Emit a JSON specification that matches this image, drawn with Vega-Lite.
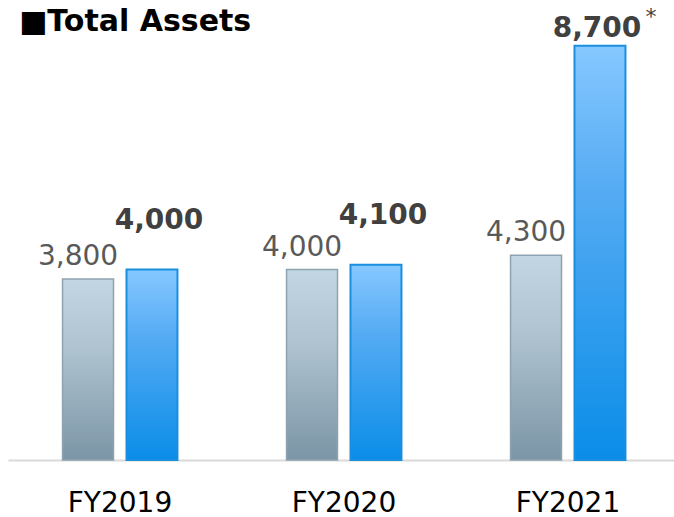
{
  "$schema": "https://vega.github.io/schema/vega-lite/v6.json",
  "autosize": {"type": "none"},
  "padding": {"top": 40, "left": 8, "right": 0, "bottom": 57},
  "width": 666,
  "height": 420,
  "background": "white",
  "title": {
    "text": "■Total Assets",
    "anchor": "start",
    "frame": "group",
    "orient": "top",
    "font": "DejaVu Sans",
    "fontSize": 30,
    "fontWeight": "bold",
    "color": "#000000",
    "baseline": "alphabetic",
    "offset": -55,
    "dx": 11
  },
  "data": {
    "values": [
      {"year": "FY2019", "series": "prev", "value": 3800},
      {"year": "FY2019", "series": "curr", "value": 4000},
      {"year": "FY2020", "series": "prev", "value": 4000},
      {"year": "FY2020", "series": "curr", "value": 4100},
      {"year": "FY2021", "series": "prev", "value": 4300},
      {"year": "FY2021", "series": "curr", "value": 8700, "note": "*"}
    ]
  },
  "encoding": {
    "x": {
      "field": "year",
      "type": "nominal",
      "sort": ["FY2019", "FY2020", "FY2021"],
      "scale": {"range": [0, 672], "paddingInner": 0.487, "paddingOuter": 0.2435},
      "axis": {
        "title": null,
        "orient": "bottom",
        "domain": true,
        "domainColor": "#d9d9d9",
        "domainWidth": 2,
        "ticks": false,
        "tickSize": 0,
        "labelFont": "DejaVu Sans",
        "labelFontSize": 28,
        "labelColor": "#000000",
        "labelBaseline": "top",
        "labelPadding": 29,
        "labelAngle": 0
      }
    },
    "xOffset": {
      "field": "series",
      "type": "nominal",
      "sort": ["prev", "curr"],
      "scale": {"paddingInner": 0.203, "paddingOuter": 0}
    },
    "y": {
      "field": "value",
      "type": "quantitative",
      "scale": {"domain": [0, 8820], "nice": false, "zero": true},
      "axis": null
    }
  },
  "layer": [
    {
      "transform": [{"filter": "datum.series === 'prev'"}],
      "mark": {
        "type": "bar",
        "fill": {
          "gradient": "linear",
          "x1": 0, "y1": 0, "x2": 0, "y2": 1,
          "stops": [
            {"offset": 0, "color": "#c2d6e3"},
            {"offset": 0.4, "color": "#aec2cf"},
            {"offset": 1, "color": "#7b95a6"}
          ]
        },
        "stroke": "#8ea3b1",
        "strokeWidth": 1.5
      }
    },
    {
      "transform": [{"filter": "datum.series === 'curr'"}],
      "mark": {
        "type": "bar",
        "fill": {
          "gradient": "linear",
          "x1": 0, "y1": 0, "x2": 0, "y2": 1,
          "stops": [
            {"offset": 0, "color": "#86c8ff"},
            {"offset": 0.35, "color": "#55abf3"},
            {"offset": 1, "color": "#0a8de8"}
          ]
        },
        "stroke": "#1a8fe0",
        "strokeWidth": 2
      }
    },
    {
      "transform": [{"filter": "datum.series === 'prev'"}],
      "mark": {
        "type": "text",
        "font": "DejaVu Sans",
        "fontSize": 28,
        "color": "#595959",
        "baseline": "alphabetic",
        "align": "center",
        "dx": -10,
        "dy": -14
      },
      "encoding": {"text": {"field": "value", "type": "quantitative", "format": ","}}
    },
    {
      "transform": [{"filter": "datum.series === 'curr' && !isValid(datum.note)"}],
      "mark": {
        "type": "text",
        "font": "DejaVu Sans",
        "fontSize": 28,
        "fontWeight": "bold",
        "color": "#404040",
        "baseline": "alphabetic",
        "align": "center",
        "dx": 7,
        "dy": -41
      },
      "encoding": {"text": {"field": "value", "type": "quantitative", "format": ","}}
    },
    {
      "transform": [{"filter": "datum.series === 'curr' && isValid(datum.note)"}],
      "mark": {
        "type": "text",
        "font": "DejaVu Sans",
        "fontSize": 28,
        "fontWeight": "bold",
        "color": "#404040",
        "baseline": "alphabetic",
        "align": "center",
        "dx": -3,
        "dy": -9
      },
      "encoding": {"text": {"field": "value", "type": "quantitative", "format": ","}}
    },
    {
      "transform": [{"filter": "isValid(datum.note)"}],
      "mark": {
        "type": "text",
        "font": "DejaVu Sans",
        "fontSize": 22,
        "color": "#404040",
        "baseline": "alphabetic",
        "align": "center",
        "dx": 51,
        "dy": -22
      },
      "encoding": {"text": {"field": "note", "type": "nominal"}}
    }
  ],
  "config": {
    "view": {"stroke": null},
    "axis": {"grid": false}
  }
}
